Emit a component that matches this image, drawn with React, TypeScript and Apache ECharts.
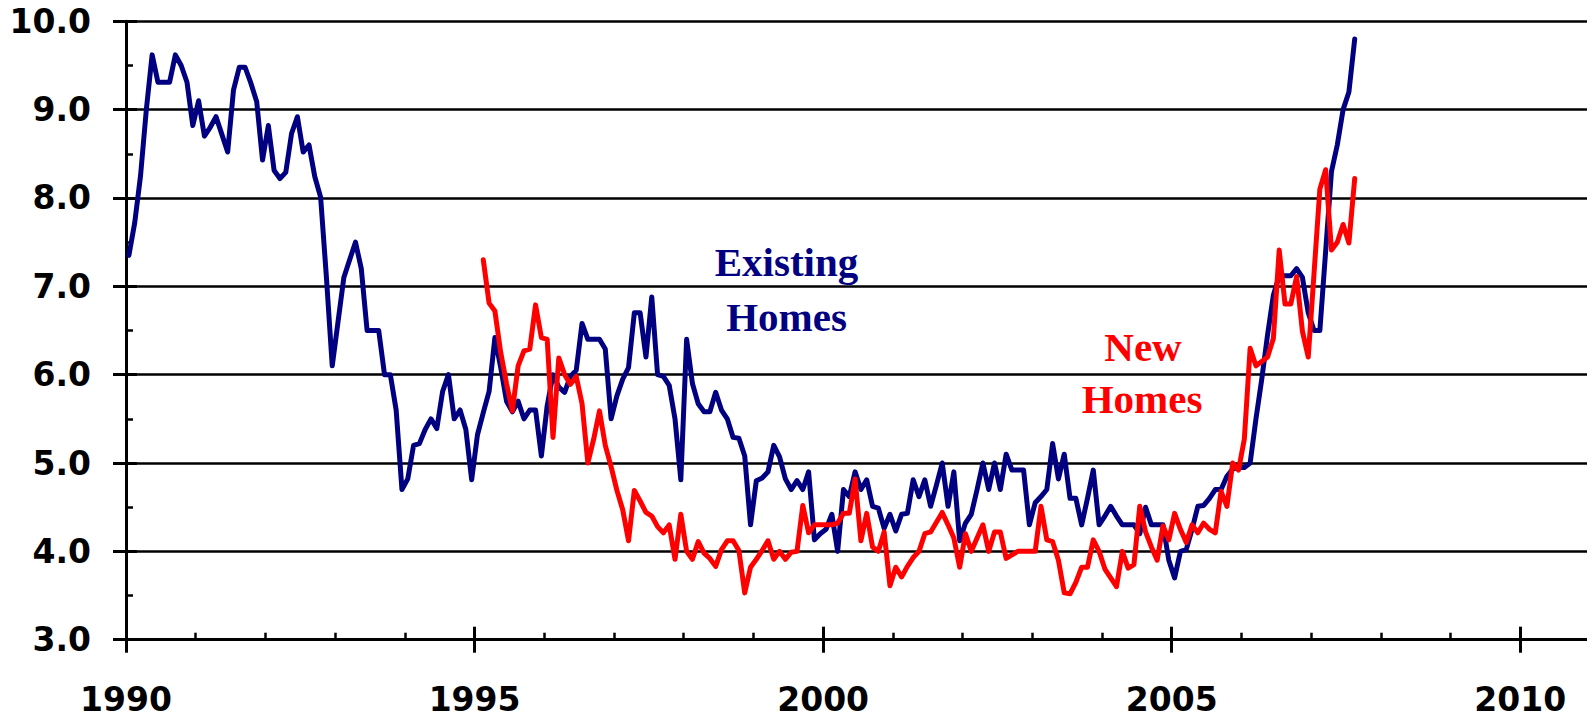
import React, { useEffect, useRef } from "react";
import * as echarts from "echarts";

// Monthly series; each value is plotted at mid-month on a decimal-year axis.
const START_YEAR = 1990;
const EXISTING_START_MONTH = 0; // Jan 1990
const NEW_START_MONTH = 61; // Feb 1995

// Existing homes, one row per year (Jan..Dec)
const existingHomes: number[] = [
  7.35, 7.72, 8.25, 9.0, 9.62, 9.31, 9.31, 9.31, 9.62, 9.5, 9.31, 8.82, // 1990
  9.1, 8.7, 8.8, 8.92, 8.72, 8.52, 9.22, 9.48, 9.48, 9.3, 9.09, 8.43, // 1991
  8.82, 8.31, 8.22, 8.29, 8.73, 8.92, 8.52, 8.6, 8.24, 8.01, 7.1, 6.1, // 1992
  6.6, 7.1, 7.3, 7.5, 7.2, 6.5, 6.5, 6.5, 6.0, 6.0, 5.6, 4.7, // 1993
  4.82, 5.2, 5.22, 5.38, 5.5, 5.39, 5.81, 6.0, 5.5, 5.6, 5.38, 4.81, // 1994
  5.32, 5.57, 5.81, 6.42, 6.08, 5.7, 5.58, 5.7, 5.5, 5.6, 5.6, 5.08, // 1995
  5.65, 6.0, 5.86, 5.8, 5.98, 6.05, 6.58, 6.4, 6.4, 6.4, 6.29, 5.5, // 1996
  5.76, 5.95, 6.08, 6.7, 6.7, 6.2, 6.88, 6.0, 5.98, 5.88, 5.5, 4.81, // 1997
  6.4, 5.9, 5.67, 5.58, 5.58, 5.8, 5.6, 5.5, 5.29, 5.28, 5.08, 4.3, // 1998
  4.8, 4.83, 4.9, 5.2, 5.07, 4.82, 4.7, 4.8, 4.7, 4.9, 4.13, 4.2, // 1999
  4.25, 4.42, 4.0, 4.7, 4.62, 4.9, 4.7, 4.81, 4.51, 4.49, 4.26, 4.42, // 2000
  4.23, 4.42, 4.43, 4.81, 4.62, 4.81, 4.51, 4.75, 5.0, 4.51, 4.9, 4.12, // 2001
  4.32, 4.42, 4.7, 5.0, 4.7, 5.0, 4.7, 5.1, 4.92, 4.92, 4.92, 4.3, // 2002
  4.55, 4.62, 4.7, 5.22, 4.82, 5.1, 4.6, 4.6, 4.3, 4.6, 4.92, 4.3, // 2003
  4.4, 4.51, 4.4, 4.3, 4.3, 4.3, 4.2, 4.5, 4.3, 4.3, 4.3, 3.9, // 2004
  3.7, 4.0, 4.02, 4.25, 4.51, 4.52, 4.6, 4.7, 4.7, 4.85, 4.93, 4.95, // 2005
  4.95, 5.0, 5.5, 5.95, 6.45, 6.9, 7.12, 7.12, 7.12, 7.2, 7.1, 6.7, // 2006
  6.5, 6.5, 7.4, 8.3, 8.6, 9.0, 9.2, 9.8, // 2007 (Jan..Aug)
];

// New homes, Feb 1995 onwards
const newHomes: number[] = [
  7.3, 6.81, 6.72, 6.25, 5.9, 5.59, 6.1, 6.27, 6.29, 6.79, 6.42, // 1995 (Feb..Dec)
  6.4, 5.29, 6.19, 6.0, 5.89, 5.98, 5.67, 5.0, 5.27, 5.59, 5.2, 4.96, // 1996
  4.69, 4.47, 4.12, 4.69, 4.57, 4.44, 4.4, 4.28, 4.21, 4.3, 3.91, 4.42, // 1997
  4.0, 3.91, 4.11, 3.98, 3.92, 3.83, 4.02, 4.12, 4.12, 4.01, 3.53, 3.82, // 1998
  3.91, 4.01, 4.12, 3.91, 4.0, 3.91, 3.99, 4.0, 4.52, 4.21, 4.3, 4.3, // 1999
  4.3, 4.3, 4.32, 4.43, 4.43, 4.82, 4.12, 4.43, 4.05, 4.0, 4.22, 3.61, // 2000
  3.82, 3.71, 3.83, 3.93, 4.0, 4.2, 4.22, 4.33, 4.44, 4.3, 4.15, 3.82, // 2001
  4.2, 4.0, 4.15, 4.3, 4.0, 4.22, 4.22, 3.92, 3.96, 4.0, 4.0, 4.0, // 2002
  4.0, 4.51, 4.13, 4.11, 3.9, 3.53, 3.52, 3.65, 3.82, 3.82, 4.13, 4.0, // 2003
  3.8, 3.7, 3.6, 4.0, 3.81, 3.85, 4.51, 4.22, 4.05, 3.9, 4.29, 4.13, // 2004
  4.43, 4.25, 4.1, 4.3, 4.21, 4.32, 4.25, 4.21, 4.68, 4.51, 5.0, 4.92, // 2005
  5.27, 6.3, 6.1, 6.15, 6.2, 6.41, 7.41, 6.8, 6.8, 7.11, 6.49, 6.2, // 2006
  7.15, 8.1, 8.32, 7.41, 7.5, 7.7, 7.49, 8.22, // 2007 (Jan..Aug)
];

const yearLabels: number[] = [1990, 1995, 2000, 2005, 2010];
const X_MIN = 1990;
const X_MAX = 2011;
const Y_MIN = 3;
const Y_MAX = 10;

const seriesLabels = {
  existing: ["Existing", "Homes"],
  fresh: ["New", "Homes"],
};

const NAVY = "#000080";
const RED = "#ff0000";
const INK = "#000000";
const NUM_FONT = "DejaVu Sans";
const TITLE_FONT = '"Liberation Serif", "Times New Roman", serif';

function toPoints(values: number[], startMonth: number): [number, number][] {
  return values.map((v, k) => [START_YEAR + (startMonth + k + 0.5) / 12, v]);
}

function tickOnlyX(interval: number, length: number, width: number) {
  return {
    type: "value",
    position: "bottom",
    min: X_MIN,
    max: X_MAX,
    interval,
    axisLine: { show: false },
    axisTick: { show: true, inside: true, length, lineStyle: { color: INK, width } },
    axisLabel: { show: false },
    splitLine: { show: false },
  };
}

function tickOnlyY(interval: number, length: number, width: number) {
  return {
    type: "value",
    position: "left",
    min: Y_MIN,
    max: Y_MAX,
    interval,
    axisLine: { show: false },
    axisTick: { show: true, inside: true, length, lineStyle: { color: INK, width } },
    axisLabel: { show: false },
    splitLine: { show: false },
  };
}

export default function App() {
  const ref = useRef<HTMLDivElement>(null);

  useEffect(() => {
    if (!ref.current) return;
    const chart = echarts.init(ref.current, undefined, { renderer: "svg" });

    const label = (text: string, x: number, y: number, color: string) => ({
      type: "text",
      x,
      y,
      z: 100,
      style: {
        text,
        fill: color,
        font: `bold 41px ${TITLE_FONT}`,
        align: "center",
        verticalAlign: "middle",
      },
    });

    const option: any = {
      animation: false,
      backgroundColor: "#ffffff",
      grid: {
        left: 126,
        top: 21.3,
        width: 1464,
        height: 618.4,
        containLabel: false,
        outerBoundsMode: "none",
      },
      xAxis: [
        {
          type: "value",
          position: "bottom",
          min: X_MIN,
          max: X_MAX,
          interval: 5,
          axisLine: { show: true, onZero: false, lineStyle: { color: INK, width: 3 } },
          axisTick: { show: true, inside: false, length: 13, lineStyle: { color: INK, width: 3 } },
          axisLabel: {
            show: true,
            margin: 43,
            color: INK,
            fontFamily: NUM_FONT,
            fontWeight: "bold",
            fontSize: 33,
            formatter: (v: number) => (yearLabels.includes(v) ? String(v) : ""),
          },
          splitLine: { show: false },
        },
        tickOnlyX(1, 7, 2.5),
        tickOnlyX(5, 13, 3),
      ],
      yAxis: [
        {
          type: "value",
          position: "left",
          min: Y_MIN,
          max: Y_MAX,
          interval: 1,
          axisLine: { show: true, onZero: false, lineStyle: { color: INK, width: 3 } },
          axisTick: { show: true, inside: false, length: 13, lineStyle: { color: INK, width: 3 } },
          axisLabel: {
            show: true,
            margin: 35,
            color: INK,
            fontFamily: NUM_FONT,
            fontWeight: "bold",
            fontSize: 33,
            formatter: (v: number) => v.toFixed(1),
          },
          splitLine: { show: true, lineStyle: { color: INK, width: 2.5 } },
        },
        tickOnlyY(0.5, 7, 2.5),
        tickOnlyY(1, 11, 3),
      ],
      series: [
        {
          name: "Existing Homes",
          type: "line",
          xAxisIndex: 0,
          yAxisIndex: 0,
          data: toPoints(existingHomes, EXISTING_START_MONTH),
          showSymbol: false,
          symbol: "none",
          z: 3,
          lineStyle: { color: NAVY, width: 5, join: "round", cap: "round" },
        },
        {
          name: "New Homes",
          type: "line",
          xAxisIndex: 0,
          yAxisIndex: 0,
          data: toPoints(newHomes, NEW_START_MONTH),
          showSymbol: false,
          symbol: "none",
          z: 4,
          lineStyle: { color: RED, width: 5, join: "round", cap: "round" },
        },
      ],
      graphic: [
        label(seriesLabels.existing[0], 786.5, 261.5, NAVY),
        label(seriesLabels.existing[1], 786.5, 317, NAVY),
        label(seriesLabels.fresh[0], 1143, 347, RED),
        label(seriesLabels.fresh[1], 1142, 398.5, RED),
      ],
    };

    chart.setOption(option);
    return () => chart.dispose();
  }, []);

  return (
    <div
      ref={ref}
      style={{ position: "fixed", left: 0, top: 0, width: 1587, height: 721, background: "#fff" }}
    />
  );
}
